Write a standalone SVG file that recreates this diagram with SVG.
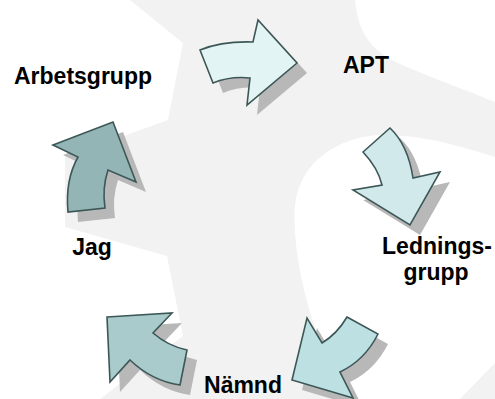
<svg xmlns="http://www.w3.org/2000/svg" xmlns:xlink="http://www.w3.org/1999/xlink" width="495" height="399" viewBox="0 0 495 399">
<style>
.lbl{font-family:"Liberation Sans",Arial,sans-serif;font-weight:bold;font-size:23px;fill:#000;text-anchor:middle}
.sh{fill:#b8b8b8;stroke:none}
.ar{stroke:#3d5757;stroke-width:1.6;stroke-linejoin:miter}
</style>
<defs>
<path id="a1" d="M200,50 Q222,41 253,42 L258,20 L297,63 L247,105 L250,78 Q230,76 213,83 Z"/>
<path id="a2" d="M363,152 L390,128 Q408,145 413,178 L440,172 L410,225 L353,190 L382,185 Q378,168 363,152 Z"/>
<path id="a3" d="M347,317 L378,334 Q365,360 340,372 L353,398 L292,380 L307,318 L322,343 Q337,334 347,317 Z"/>
<path id="a4" d="M107,317 L172,313 L153,333 Q168,346 187,350 L180,385 Q152,381 130,360 L110,382 Z"/>
<path id="a5" d="M53,145 L113,122 L136,182 L108,170 Q102,188 105,208 L68,212 Q65,180 78,157 Z"/>
</defs>
<g id="background">
<rect x="0" y="0" width="495" height="399" fill="#f2f2f2"/>
<path fill="#fff" d="M0,0 L130,0 L183,43 L168,120 L65,157 L65,227 L167,256 L183,336 L100,399 L0,399 Z"/>
<path fill="#fff" d="M355,0 C358,30 368,50 400,64 C420,73 450,84 495,102 L495,0 Z"/>
<path fill="#fff" d="M495,157 C460,146 420,134 380,135 C340,137 300,160 295,205 C292,250 305,320 345,399 L460,399 L495,363 Z"/>
</g>
<g id="connectors">
<g id="arrow-arbetsgrupp-apt">
<use xlink:href="#a1" class="sh" transform="translate(10,10)"/>
<use xlink:href="#a1" class="ar" fill="#e3f4f4"/>
</g>
<g id="arrow-apt-ledningsgrupp">
<use xlink:href="#a2" class="sh" transform="translate(10,10)"/>
<use xlink:href="#a2" class="ar" fill="#d1e9eb"/>
</g>
<g id="arrow-ledningsgrupp-namnd">
<use xlink:href="#a3" class="sh" transform="translate(10,10)"/>
<use xlink:href="#a3" class="ar" fill="#bde0e3"/>
</g>
<g id="arrow-namnd-jag">
<use xlink:href="#a4" class="sh" transform="translate(10,10)"/>
<use xlink:href="#a4" class="ar" fill="#a9cbcc"/>
</g>
<g id="arrow-jag-arbetsgrupp">
<use xlink:href="#a5" class="sh" transform="translate(10,10)"/>
<use xlink:href="#a5" class="ar" fill="#93b5b5"/>
</g>
</g>
<g id="node-arbetsgrupp"><text class="lbl" x="83" y="84">Arbetsgrupp</text></g>
<g id="node-apt"><text class="lbl" x="366" y="73">APT</text></g>
<g id="node-ledningsgrupp"><text class="lbl" x="437" y="254">Lednings-</text><text class="lbl" x="436" y="280">grupp</text></g>
<g id="node-namnd"><text class="lbl" x="243" y="393">Nämnd</text></g>
<g id="node-jag"><text class="lbl" x="92" y="255">Jag</text></g>
</svg>
